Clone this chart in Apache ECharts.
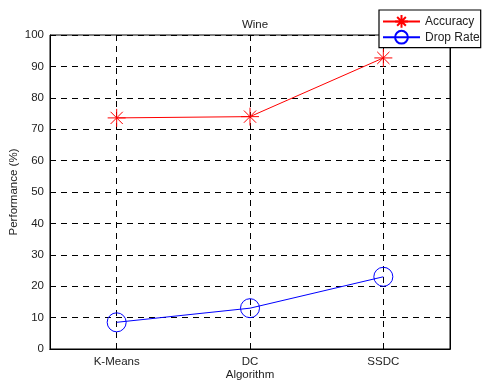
<!DOCTYPE html>
<html><head><meta charset="utf-8">
<script src="https://cdn.jsdelivr.net/npm/echarts@6/dist/echarts.min.js"></script>
<style>html,body{margin:0;padding:0;background:#fff}#c{width:483px;height:383px}</style>
</head><body><div id="c"></div>
<script>
var categories = ['K-Means', 'DC', 'SSDC'];
var accuracy = [73.6, 74.0, 92.7];
var dropRate = [8.5, 13.0, 23.0];
var yTicks = [0, 100, 10];

var FONT = 'Liberation Sans, Arial, Helvetica, sans-serif';
var star = 'path://M5 0 L5 10 M0 5 L10 5 M1.6 1.6 L8.4 8.4 M8.4 1.6 L1.6 8.4';
var chart = echarts.init(document.getElementById('c'), null, {renderer: 'canvas'});
var dash = {color: '#000', width: 1, type: [6, 5]};
chart.setOption({
  animation: false,
  backgroundColor: '#fff',
  textStyle: {fontFamily: FONT},
  title: {text: 'Wine', left: 250, textAlign: 'center', top: 14,
    textStyle: {fontSize: 11.5, fontWeight: 'normal', color: '#222', fontFamily: FONT}},
  grid: {left: 50, right: 33, top: 35, bottom: 34, show: true, borderColor: '#000', borderWidth: 1,
    backgroundColor: 'transparent', containLabel: false, outerBoundsMode: 'none'},
  legend: {
    orient: 'vertical', left: 379, top: 10, z: 10,
    backgroundColor: '#fff', borderColor: '#000', borderWidth: 1.2,
    padding: [4, 1, 3, 3], itemWidth: 37, itemHeight: 16, itemGap: 1,
    textStyle: {fontSize: 12, color: '#222', fontFamily: FONT},
    data: ['Accuracy', 'Drop Rate']
  },
  xAxis: [{
    type: 'category', data: categories, boundaryGap: true, position: 'bottom',
    name: 'Algorithm', nameLocation: 'middle', nameGap: 20, nameMoveOverlap: false,
    nameTextStyle: {fontSize: 11.5, color: '#222', fontFamily: FONT},
    axisLine: {lineStyle: {color: '#000', width: 1}},
    axisTick: {inside: true, alignWithLabel: true, length: 4, lineStyle: {color: '#000'}},
    axisLabel: {fontSize: 11.5, color: '#222', margin: 7, fontFamily: FONT},
    splitLine: {show: false}
  }, {
    type: 'category', data: categories, boundaryGap: true, position: 'top',
    axisLine: {lineStyle: {color: '#000', width: 1}},
    axisTick: {inside: true, alignWithLabel: true, length: 4, lineStyle: {color: '#000'}},
    axisLabel: {show: false}, splitLine: {show: false}
  }],
  yAxis: [{
    type: 'value', min: yTicks[0], max: yTicks[1], interval: yTicks[2], position: 'left',
    name: 'Performance (%)', nameLocation: 'middle', nameGap: 30, nameMoveOverlap: false,
    nameTextStyle: {fontSize: 11.5, color: '#222', fontFamily: FONT},
    axisLine: {show: true, lineStyle: {color: '#000', width: 1}},
    axisTick: {show: true, inside: true, length: 4, lineStyle: {color: '#000'}},
    axisLabel: {fontSize: 11.5, color: '#222', margin: 6, fontFamily: FONT},
    splitLine: {show: true, lineStyle: dash}
  }, {
    type: 'value', min: yTicks[0], max: yTicks[1], interval: yTicks[2], position: 'right',
    axisLine: {show: true, lineStyle: {color: '#000', width: 1}},
    axisTick: {show: true, inside: true, length: 4, lineStyle: {color: '#000'}},
    axisLabel: {show: false}, splitLine: {show: false}
  }],
  series: [{
    name: 'Accuracy', type: 'line', data: accuracy,
    symbol: star, symbolSize: 18, symbolKeepAspect: true,
    lineStyle: {color: '#ff0000', width: 1},
    itemStyle: {color: '#ff0000', borderColor: '#ff0000', borderWidth: 1},
    markLine: {
      silent: true, symbol: 'none', label: {show: false},
      lineStyle: dash, z: 1,
      data: categories.map(function (c) { return {xAxis: c}; })
    },
    z: 5
  }, {
    name: 'Drop Rate', type: 'line', data: dropRate,
    symbol: 'circle', symbolSize: 19,
    lineStyle: {color: '#0000ff', width: 1},
    itemStyle: {color: 'rgba(0,0,0,0)', borderColor: '#0000ff', borderWidth: 1},
    z: 5
  }]
});
</script></body></html>
